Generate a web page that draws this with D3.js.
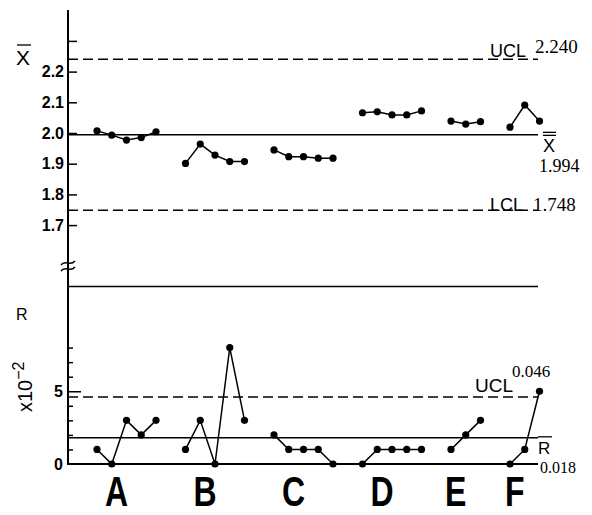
<!DOCTYPE html>
<html>
<head>
<meta charset="utf-8">
<script src="https://cdn.jsdelivr.net/npm/d3@7"></script>
<style>
  html, body { margin: 0; padding: 0; background: #fff; }
  svg { display: block; }
  .sans { font-family: "Liberation Sans", Arial, sans-serif; }
  .serif { font-family: "Liberation Serif", "DejaVu Serif", serif; }
</style>
</head>
<body>
<svg id="chart" width="592" height="515"></svg>
<script>
// Lots (groups) and their subgroup sample counts
const categories = ["A", "B", "C", "D", "E", "F"];
const groupSizes = [5, 5, 5, 5, 3, 3];

// Subgroup means (X-bar)
const xbarA = [2.007, 1.993, 1.977, 1.985, 2.004];
const xbarB = [1.901, 1.964, 1.928, 1.907, 1.907];
const xbarC = [1.945, 1.923, 1.923, 1.918, 1.918];
const xbarD = [2.066, 2.069, 2.059, 2.059, 2.072];
const xbarE = [2.039, 2.029, 2.037];
const xbarF = [2.019, 2.091, 2.039];

// Subgroup ranges (R, in units of 10^-2)
const rangeA = [1, 0, 3, 2, 3];
const rangeB = [1, 3, 0, 8, 3];
const rangeC = [2, 1, 1, 1, 0];
const rangeD = [0, 1, 1, 1, 1];
const rangeE = [1, 2, 3];
const rangeF = [0, 1, 5];

// Control limits
const xbarUCL = 2.240, xbarCL = 1.994, xbarLCL = 1.748;
const rUCL = 0.046, rCL = 0.018;

// Axis ticks
const xbarTicks = [1.7, 1.8, 1.9, 2.0, 2.1, 2.2, 2.3];
const xbarTickLabels = ["1.7", "1.8", "1.9", "2.0", "2.1", "2.2", ""];
const rTicks = [0, 1, 2, 3, 4, 5, 6, 7, 8];
const rTickLabels = ["0", "", "", "", "", "5", "", "", ""];

const xbarSeries = [xbarA, xbarB, xbarC, xbarD, xbarE, xbarF];
const rangeSeries = [rangeA, rangeB, rangeC, rangeD, rangeE, rangeF];

// Each group occupies consecutive sample slots, with one empty slot between groups
const starts = [];
let s = 0;
groupSizes.forEach(n => { starts.push(s); s += n + 1; });
const lastSlot = s - 2;

const svg = d3.select("#chart");
const axisX = 68, rightEnd = 538;

const x = d3.scaleLinear().domain([0, lastSlot]).range([97, 539.5]);
const yTop = d3.scaleLinear().domain([1.6, 2.35]).range([255.8, 25.55]);
const yR = d3.scaleLinear().domain([0, 12.2]).range([464, 286.5]);

// ---------- axis line with break ----------
svg.append("line").attr("x1", axisX).attr("x2", axisX).attr("y1", 10).attr("y2", 465)
  .attr("stroke", "#000").attr("stroke-width", 2);
const brk = svg.append("g").attr("fill", "none").attr("stroke", "#000").attr("stroke-width", 1.5);
[263, 269].forEach(yy => {
  brk.append("path").attr("d", `M${axisX - 7},${yy + 2} C${axisX - 3},${yy - 4} ${axisX + 2},${yy + 4} ${axisX + 7},${yy - 2}`);
});

// ---------- X-bar chart ----------
const topAxis = d3.axisLeft(yTop).tickValues(xbarTicks)
  .tickSizeInner(-9).tickSizeOuter(0).tickPadding(4)
  .tickFormat((d, i) => xbarTickLabels[i]);
const gTop = svg.append("g").attr("transform", `translate(${axisX},0)`).call(topAxis);
gTop.select(".domain").remove();
gTop.selectAll(".tick line").attr("stroke", "#000").attr("stroke-width", 1.5);
gTop.selectAll(".tick text").attr("class", "sans").attr("font-size", 16).attr("font-weight", "bold")
  .attr("fill", "#000");

// control lines
const lineStyle = (sel, dashed) => sel.attr("stroke", "#000").attr("stroke-width", 1.5)
  .attr("stroke-dasharray", dashed ? "10,5" : null);
lineStyle(svg.append("line").attr("x1", axisX).attr("x2", rightEnd)
  .attr("y1", yTop(xbarUCL)).attr("y2", yTop(xbarUCL)), true);
lineStyle(svg.append("line").attr("x1", axisX).attr("x2", rightEnd)
  .attr("y1", yTop(xbarCL)).attr("y2", yTop(xbarCL)), false);
lineStyle(svg.append("line").attr("x1", axisX).attr("x2", rightEnd)
  .attr("y1", yTop(xbarLCL)).attr("y2", yTop(xbarLCL)), true);

// labels for X-bar limits
svg.append("text").attr("class", "sans").attr("x", 490).attr("y", yTop(xbarUCL) - 2)
  .attr("font-size", 18).text("UCL");
svg.append("text").attr("class", "serif").attr("x", 535).attr("y", yTop(xbarUCL) - 6)
  .attr("font-size", 19).text(d3.format(".3f")(xbarUCL));
svg.append("text").attr("class", "sans").attr("x", 490).attr("y", yTop(xbarLCL) + 1)
  .attr("font-size", 18).text("LCL");
svg.append("text").attr("class", "serif").attr("x", 533).attr("y", yTop(xbarLCL) + 1)
  .attr("font-size", 19).text(d3.format(".3f")(xbarLCL));
// double-barred X for grand mean
svg.append("text").attr("class", "sans").attr("x", 543).attr("y", yTop(xbarCL) + 17.5)
  .attr("font-size", 18).text("X");
[yTop(xbarCL) - 2.5, yTop(xbarCL) + 0.5].forEach(yy =>
  svg.append("line").attr("x1", 543).attr("x2", 556).attr("y1", yy).attr("y2", yy)
    .attr("stroke", "#000").attr("stroke-width", 1.3));
svg.append("text").attr("class", "serif").attr("x", 539).attr("y", yTop(xbarCL) + 37.5)
  .attr("font-size", 18).text(d3.format(".3f")(xbarCL));

// axis title X-bar
svg.append("text").attr("class", "sans").attr("x", 16).attr("y", 65)
  .attr("font-size", 21).text("X");
svg.append("line").attr("x1", 17).attr("x2", 31).attr("y1", 45).attr("y2", 45)
  .attr("stroke", "#000").attr("stroke-width", 1.3);

// series
const lineTop = d3.line().x(d => x(d.slot)).y(d => yTop(d.v));
xbarSeries.forEach((vals, gi) => {
  const pts = vals.map((v, i) => ({ slot: starts[gi] + i, v }));
  svg.append("path").attr("d", lineTop(pts)).attr("fill", "none")
    .attr("stroke", "#000").attr("stroke-width", 1.5);
  svg.selectAll(null).data(pts).enter().append("circle")
    .attr("cx", d => x(d.slot)).attr("cy", d => yTop(d.v)).attr("r", 3.6).attr("fill", "#000");
});

// ---------- R chart ----------
const rAxis = d3.axisLeft(yR).tickValues(rTicks)
  .tickSizeInner(-5).tickSizeOuter(0).tickPadding(5)
  .tickFormat((d, i) => rTickLabels[i]);
const gR = svg.append("g").attr("transform", `translate(${axisX},0)`).call(rAxis);
gR.select(".domain").remove();
gR.selectAll(".tick line").attr("stroke", "#000").attr("stroke-width", 1.5)
  .attr("x2", d => d === 5 ? 13 : (d === 0 ? 0 : 5));
gR.selectAll(".tick text").attr("class", "sans").attr("font-size", 16).attr("font-weight", "bold")
  .attr("fill", "#000");

// frame top line and baseline
lineStyle(svg.append("line").attr("x1", axisX).attr("x2", rightEnd)
  .attr("y1", yR(12.2)).attr("y2", yR(12.2)), false);
svg.append("line").attr("x1", axisX).attr("x2", rightEnd).attr("y1", yR(0)).attr("y2", yR(0))
  .attr("stroke", "#000").attr("stroke-width", 2);

lineStyle(svg.append("line").attr("x1", axisX).attr("x2", rightEnd)
  .attr("y1", yR(rUCL * 100)).attr("y2", yR(rUCL * 100)), true);
lineStyle(svg.append("line").attr("x1", axisX).attr("x2", rightEnd)
  .attr("y1", yR(rCL * 100)).attr("y2", yR(rCL * 100)), false);

svg.append("text").attr("class", "sans").attr("x", 475).attr("y", yR(rUCL * 100) - 5)
  .attr("font-size", 19).text("UCL");
svg.append("text").attr("class", "serif").attr("x", 512).attr("y", yR(rUCL * 100) - 20)
  .attr("font-size", 17).text(d3.format(".3f")(rUCL));
svg.append("text").attr("class", "sans").attr("x", 538).attr("y", yR(rCL * 100) + 16.5)
  .attr("font-size", 17).text("R");
svg.append("line").attr("x1", 538).attr("x2", 552).attr("y1", yR(rCL * 100) - 1).attr("y2", yR(rCL * 100) - 1)
  .attr("stroke", "#000").attr("stroke-width", 1.3);
svg.append("text").attr("class", "serif").attr("x", 540).attr("y", yR(0) + 9)
  .attr("font-size", 16).text(d3.format(".3f")(rCL));

// axis titles for R chart
svg.append("text").attr("class", "sans").attr("x", 16).attr("y", 320)
  .attr("font-size", 16).text("R");
const mult = svg.append("text").attr("class", "sans").attr("font-size", 20)
  .attr("transform", "translate(32,412) rotate(-90)");
mult.append("tspan").text("x10");
mult.append("tspan").attr("dy", -8).attr("font-size", 16).text("−2");

const lineR = d3.line().x(d => x(d.slot)).y(d => yR(d.v));
rangeSeries.forEach((vals, gi) => {
  const pts = vals.map((v, i) => ({ slot: starts[gi] + i, v }));
  svg.append("path").attr("d", lineR(pts)).attr("fill", "none")
    .attr("stroke", "#000").attr("stroke-width", 1.5);
  svg.selectAll(null).data(pts).enter().append("circle")
    .attr("cx", d => x(d.slot)).attr("cy", d => yR(d.v)).attr("r", 3.6).attr("fill", "#000");
});

// ---------- category labels ----------
categories.forEach((c, gi) => {
  const cx = x(starts[gi] + (groupSizes[gi] - 1) / 2) - 10;
  svg.append("text").attr("class", "sans").attr("font-size", 32).attr("font-weight", "bold")
    .attr("text-anchor", "middle")
    .attr("transform", `translate(${cx},506) scale(1,1.3)`).text(c);
});
</script>
</body>
</html>
